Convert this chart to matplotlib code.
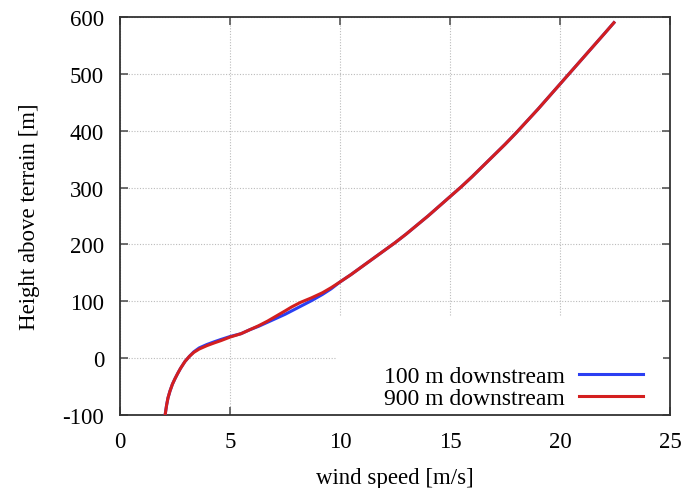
import matplotlib.pyplot as plt
from matplotlib.patches import Rectangle

plt.rcParams['font.family'] = ['Liberation Serif', 'DejaVu Serif']
plt.rcParams['axes.unicode_minus'] = False

# --- datos ---
wind_900 = [2.05, 2.08, 2.12, 2.18, 2.27, 2.38, 2.5, 2.62, 2.75, 2.95, 3.15, 3.35,
            3.6, 3.95, 4.3, 4.6, 5.0, 5.5, 5.9, 6.3, 6.7, 7.1, 7.5, 7.8, 8.2, 8.7,
            9.2, 9.6, 10.0, 10.5, 11.0, 11.5, 12.0, 12.5, 13.0, 13.5, 14.0, 14.5,
            15.0, 15.5, 16.0, 16.5, 17.0, 17.5, 18.0, 18.5, 19.0, 19.5, 20.0, 20.5,
            21.0, 21.5, 22.0, 22.45]
height_900 = [-100, -92, -82, -70, -58, -46, -36, -27, -18, -6, 3, 10,
              16, 22, 27, 31, 37, 43, 50, 57, 65, 74, 83, 90, 98, 106,
              115, 124, 134, 147, 161, 175, 189, 203, 218, 234, 250, 267,
              284, 301, 319, 338, 357, 376, 396, 417, 438, 460, 482, 504,
              526, 548, 570, 590]

wind_100 = wind_900
height_100 = [-100, -92, -82, -70, -58, -46, -36, -27, -18, -6, 3, 11,
              18, 24, 29, 33, 38, 43, 50, 56, 63, 70, 77, 83, 91, 101,
              112, 122, 134, 147, 161, 175, 189, 203, 218, 234, 250, 267,
              284, 301, 319, 338, 357, 376, 396, 417, 438, 460, 482, 504,
              526, 548, 570, 590]

labels = ['100 m downstream', '900 m downstream']
xticks = [0, 5, 10, 15, 20, 25]
yticks = [-100, 0, 100, 200, 300, 400, 500, 600]

# --- grafico ---
fig = plt.figure(figsize=(6.97, 4.89), dpi=100)
ax = fig.add_axes([0.1722, 0.1493, 0.7891, 0.8139])

ax.plot(wind_100, height_100, color='#2b3ff2', lw=2.2, label=labels[0], zorder=3)
ax.plot(wind_900, height_900, color='#d41f1f', lw=2.2, label=labels[1], zorder=4)

ax.set_xlim(0, 25)
ax.set_ylim(-100, 600)
ax.set_xticks(xticks)
ax.set_yticks(yticks)
ax.tick_params(direction='in', length=6, width=1.2, color='#555555',
               top=True, right=True, labelsize=16.5, pad=11.5)
ax.grid(True, color='#bbbbbb', linestyle=(0, (1, 1.5)), linewidth=0.8)
ax.set_axisbelow(True)
for s in ax.spines.values():
    s.set_color('#333333')
    s.set_linewidth(1.3)

# zona blanca detras de la leyenda
ax.add_patch(Rectangle((0.395, 0.0), 0.592, 0.249, transform=ax.transAxes,
                       facecolor='white', edgecolor='none', zorder=1.5))

ax.set_xlabel('wind speed [m/s]', fontsize=16.5, labelpad=11)
ax.set_ylabel('Height above terrain [m]', fontsize=16.5, labelpad=16)

ax.legend(loc='lower right', bbox_to_anchor=(0.951, 0.015), frameon=False,
          markerfirst=False, fontsize=17, handlelength=2.7, handletextpad=0.6,
          labelspacing=0.0, borderaxespad=0, borderpad=0)

fig.savefig('out.png', dpi=100)
